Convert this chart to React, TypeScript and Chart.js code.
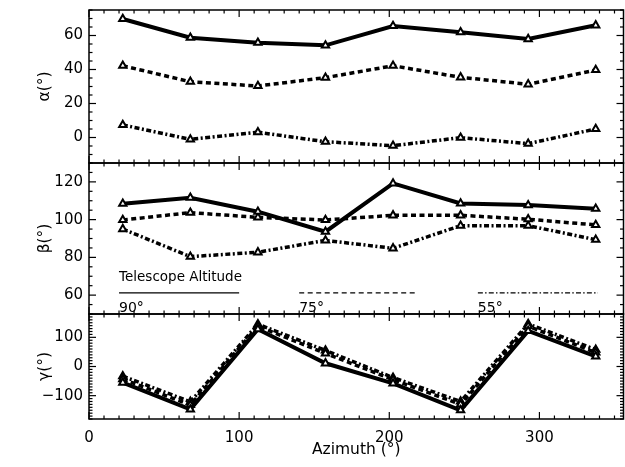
import React, { useEffect, useRef } from 'react';
import { Chart, registerables } from 'chart.js';

Chart.register(...registerables);

// ---- data ----
const AZIMUTH = [22.5, 67.5, 112.5, 157.5, 202.5, 247.5, 292.5, 337.5];

const ALPHA_90 = [69.7, 58.7, 55.8, 54.2, 65.6, 61.9, 57.9, 66.0];
const ALPHA_75 = [42.2, 32.8, 30.3, 35.2, 42.2, 35.4, 31.3, 39.7];
const ALPHA_55 = [7.4, -1.1, 3.1, -2.5, -4.8, -0.1, -3.6, 5.0];

const BETA_90 = [108.4, 111.6, 104.2, 93.6, 119.2, 108.6, 107.7, 105.8];
const BETA_75 = [99.8, 103.7, 101.2, 99.8, 102.3, 102.3, 100.2, 97.2];
const BETA_55 = [95.0, 80.4, 82.7, 89.0, 84.8, 96.8, 96.8, 89.4];

const GAMMA_90 = [-55, -147, 128, 11, -58, -150, 122, 35];
const GAMMA_75 = [-43, -132, 138, 45, -45, -130, 138, 48];
const GAMMA_55 = [-33, -121, 145, 55, -38, -120, 146, 58];

const X_TICKS = [0, 100, 200, 300];
const ALPHA_TICKS = [0, 20, 40, 60];
const BETA_TICKS = [60, 80, 100, 120];
const GAMMA_TICKS = [-100, 0, 100];

const ALTITUDES = ['90°', '75°', '55°'];
const LEGEND_TITLE = 'Telescope Altitude';

// ---- styles ----
const FONT_FAMILY = '"DejaVu Sans", "Liberation Sans", sans-serif';
const tickFont = { family: FONT_FAMILY, size: 15 };
const titleFont = { family: FONT_FAMILY, size: 15.5 };
const DASHES: number[][] = [[], [5, 3.5], [5, 2.5, 2, 2.5]];
const LEGEND_DASHES: number[][] = [[], [5, 3.5], [5, 2.2, 1.5, 2.2]];

const fmt = (v: number) => (v < 0 ? '\u2212' + Math.abs(v) : String(v));

const PANELS: [string, number, number][] = [
  ['yA', 5, 20],
  ['yB', 5, 20],
  ['yG', 10, 100],
];

const framePlugin = {
  id: 'frame',
  afterDatasetsDraw(chart: any) {
    const ctx = chart.ctx;
    const xs = chart.scales.x;
    const { left, right } = chart.chartArea;
    ctx.save();
    ctx.strokeStyle = '#000';
    ctx.setLineDash([]);
    const line = (x1: number, y1: number, x2: number, y2: number) => {
      ctx.beginPath();
      ctx.moveTo(x1, y1);
      ctx.lineTo(x2, y2);
      ctx.stroke();
    };
    for (const [id, minor, major] of PANELS) {
      const s = chart.scales[id];
      const top = s.top;
      const bottom = s.bottom;
      ctx.lineWidth = 1.2;
      const nx = Math.floor(xs.max / 10);
      for (let i = 0; i <= nx; i++) {
        const v = i * 10;
        const p = xs.getPixelForValue(v);
        const len = v % 100 === 0 ? 7 : 3.5;
        line(p, top, p, top + len);
        line(p, bottom, p, bottom - len);
      }
      const i0 = Math.ceil(s.min / minor);
      const i1 = Math.floor(s.max / minor);
      for (let i = i0; i <= i1; i++) {
        const v = i * minor;
        const p = s.getPixelForValue(v);
        const len = Math.abs(v % major) < 1e-9 ? 7 : 3.5;
        line(left, p, left + len, p);
        line(right, p, right - len, p);
      }
      ctx.lineWidth = 1.5;
      ctx.strokeRect(left, top, right - left, bottom - top);
    }

    // legend inside beta panel
    const yb = chart.scales.yB;
    ctx.fillStyle = '#000';
    ctx.textAlign = 'left';
    ctx.textBaseline = 'alphabetic';
    ctx.font = `13.5px ${FONT_FAMILY}`;
    ctx.fillText(LEGEND_TITLE, xs.getPixelForValue(20), yb.getPixelForValue(67.3));
    const segs = [
      [20, 100],
      [140, 218],
      [259, 339],
    ];
    ctx.lineWidth = 1.4;
    ctx.font = `14px ${FONT_FAMILY}`;
    segs.forEach(([a, b], k) => {
      ctx.setLineDash(LEGEND_DASHES[k]);
      const y = yb.getPixelForValue(61.2);
      line(xs.getPixelForValue(a), y, xs.getPixelForValue(b), y);
      ctx.setLineDash([]);
      ctx.fillText(ALTITUDES[k], xs.getPixelForValue(a), yb.getPixelForValue(51.2));
    });
    ctx.restore();
  },
};

function makeSet(values: number[], axis: string, k: number) {
  return {
    data: AZIMUTH.map((x, i) => ({ x, y: values[i] })),
    yAxisID: axis,
    borderColor: '#000',
    borderWidth: k === 0 ? 4 : 3.5,
    borderDash: DASHES[k],
    borderCapStyle: 'butt',
    pointStyle: 'triangle',
    pointRadius: 4.2,
    pointBackgroundColor: '#fff',
    pointBorderColor: '#000',
    pointBorderWidth: 2,
    tension: 0,
    fill: false,
  };
}

const noGrid = { display: false, drawTicks: false, tickLength: 0 };

function yScale(weight: number, min: number, max: number, ticks: number[], title: string) {
  return {
    type: 'linear',
    position: 'left',
    stack: 'panels',
    stackWeight: weight,
    min,
    max,
    offset: false,
    grid: noGrid,
    border: { display: false },
    afterBuildTicks: (s: any) => {
      s.ticks = ticks.map((v) => ({ value: v }));
    },
    afterFit: (s: any) => {
      s.width = 89;
      s.paddingTop = 0;
      s.paddingBottom = 0;
    },
    ticks: {
      font: tickFont,
      color: '#000',
      padding: 6,
      autoSkip: false,
      callback: (v: number) => fmt(v),
    },
    title: {
      display: true,
      text: title,
      font: titleFont,
      color: '#000',
      padding: { top: 36, bottom: 0 },
    },
  };
}

export default function App() {
  const ref = useRef<HTMLCanvasElement | null>(null);
  useEffect(() => {
    if (!ref.current) return;
    const chart = new Chart(ref.current, {
      type: 'line',
      data: {
        datasets: [
          makeSet(ALPHA_90, 'yA', 0),
          makeSet(ALPHA_75, 'yA', 1),
          makeSet(ALPHA_55, 'yA', 2),
          makeSet(BETA_90, 'yB', 0),
          makeSet(BETA_75, 'yB', 1),
          makeSet(BETA_55, 'yB', 2),
          makeSet(GAMMA_90, 'yG', 0),
          makeSet(GAMMA_75, 'yG', 1),
          makeSet(GAMMA_55, 'yG', 2),
        ] as any,
      },
      options: {
        animation: false,
        responsive: false,
        devicePixelRatio: 1,
        layout: { autoPadding: false, padding: { top: 10, right: 1.5, left: 0, bottom: 0 } },
        plugins: { legend: { display: false }, tooltip: { enabled: false } },
        scales: {
          x: {
            type: 'linear',
            position: 'bottom',
            min: 0,
            max: 356,
            grid: noGrid,
            border: { display: false },
            afterBuildTicks: (s: any) => {
              s.ticks = X_TICKS.map((v) => ({ value: v }));
            },
            afterFit: (s: any) => {
              s.height = 48;
              s.paddingLeft = 0;
              s.paddingRight = 0;
            },
            ticks: { font: tickFont, color: '#000', padding: 10, maxRotation: 0, autoSkip: false },
            title: {
              display: true,
              text: 'Azimuth (°)',
              font: titleFont,
              color: '#000',
              padding: { top: 0, bottom: 8 },
            },
          },
          yG: yScale(105, -180, 180, GAMMA_TICKS, 'γ(°)'),
          yB: yScale(151, 50, 130, BETA_TICKS, 'β(°)'),
          yA: yScale(153, -15, 75, ALPHA_TICKS, 'α(°)'),
        } as any,
      },
      plugins: [framePlugin],
    });
    return () => chart.destroy();
  }, []);
  return (
    <div style={{ position: 'absolute', left: 0, top: 0, width: 625, height: 467, background: '#fff' }}>
      <canvas ref={ref} width={625} height={467} style={{ display: 'block' }} />
    </div>
  );
}
